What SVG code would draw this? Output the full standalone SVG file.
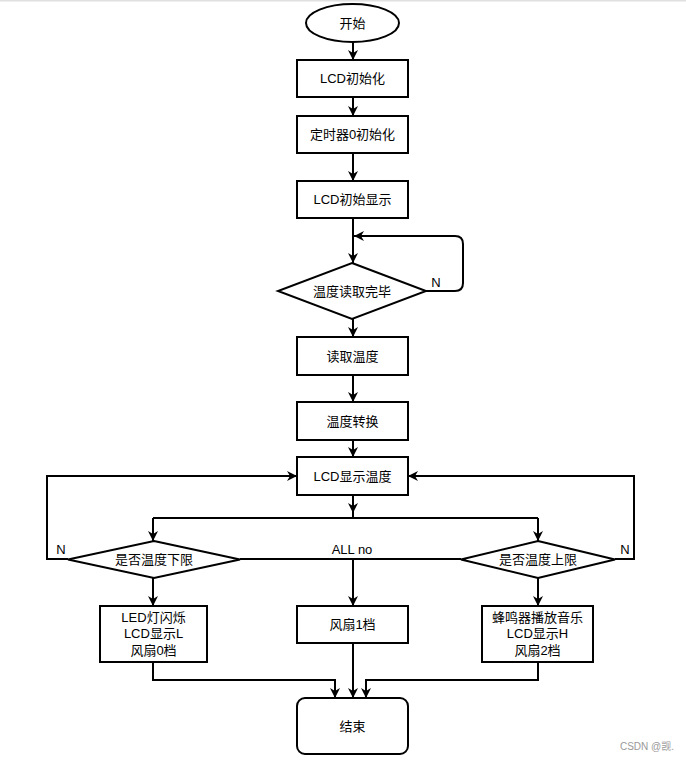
<svg xmlns="http://www.w3.org/2000/svg" width="686" height="761" viewBox="0 0 686 761">
<style>
.s{fill:#fff;stroke:#000;stroke-width:2}
.c{fill:none;stroke:#000;stroke-width:2}
text{font-family:"Liberation Sans","Noto Sans CJK SC",sans-serif;font-size:13px;fill:#000;text-anchor:middle;dominant-baseline:central}
.wm{font-size:10px;fill:#999}
</style>
<defs>
<marker id="a" viewBox="0 0 10 10" markerWidth="10" markerHeight="10" markerUnits="userSpaceOnUse" refX="10" refY="5" orient="auto">
<path d="M0,0 L10,5 L0,10 L3,5 z" fill="#000"/>
</marker>
</defs>
<rect x="0" y="0" width="686" height="761" fill="#fff"/>
<rect x="0" y="0" width="686" height="1.5" fill="#e0e0e0"/>
<g id="connectors">
<path class="c" d="M353,42 V60" marker-end="url(#a)"/>
<path class="c" d="M353,97 V116" marker-end="url(#a)"/>
<path class="c" d="M353,153 V181" marker-end="url(#a)"/>
<path class="c" d="M353,218 V263" marker-end="url(#a)"/>
<path class="c" d="M426,291 H455 Q463,291 463,283 V244 Q463,236 455,236 H354" marker-end="url(#a)"/>
<path class="c" d="M353,319 V337" marker-end="url(#a)"/>
<path class="c" d="M353,375 V402" marker-end="url(#a)"/>
<path class="c" d="M353,440 V457" marker-end="url(#a)"/>
<path class="c" d="M353,495 V513" marker-end="url(#a)"/>
<path class="c" d="M353,511 V518"/>
<path class="c" d="M153,518 H538"/>
<path class="c" d="M153,518 V541" marker-end="url(#a)"/>
<path class="c" d="M538,518 V541" marker-end="url(#a)"/>
<path class="c" d="M68,559 H47 V476 H297" marker-end="url(#a)"/>
<path class="c" d="M615,559 H634 V476 H408" marker-end="url(#a)"/>
<path class="c" d="M240,559 H461"/>
<path class="c" d="M353,559 V606" marker-end="url(#a)"/>
<path class="c" d="M153,578 V606" marker-end="url(#a)"/>
<path class="c" d="M538,578 V606" marker-end="url(#a)"/>
<path class="c" d="M153,662 V680 H335 V698" marker-end="url(#a)"/>
<path class="c" d="M353,643 V698" marker-end="url(#a)"/>
<path class="c" d="M538,662 V680 H366 V698" marker-end="url(#a)"/>
<text x="436" y="282">N</text>
<text x="61" y="549">N</text>
<text x="625" y="549">N</text>
<text x="352" y="549">ALL no</text>
</g>
<g id="start"><ellipse class="s" cx="352.5" cy="23" rx="46.5" ry="19"/><text x="352.5" y="23">开始</text></g>
<g id="lcdInit"><rect class="s" x="297" y="60" width="111" height="37"/><text x="352.5" y="78.5">LCD初始化</text></g>
<g id="timerInit"><rect class="s" x="297" y="116" width="111" height="37"/><text x="352.5" y="134.5">定时器0初始化</text></g>
<g id="lcdShow"><rect class="s" x="297" y="181" width="111" height="37"/><text x="352.5" y="199.5">LCD初始显示</text></g>
<g id="readDone"><polygon class="s" points="352,263 426,291 352,319 278,291"/><text x="352" y="291">温度读取完毕</text></g>
<g id="readTemp"><rect class="s" x="297" y="337" width="111" height="38"/><text x="352.5" y="356">读取温度</text></g>
<g id="convert"><rect class="s" x="297" y="402" width="111" height="38"/><text x="352.5" y="421">温度转换</text></g>
<g id="lcdTemp"><rect class="s" x="297" y="457" width="111" height="38"/><text x="352.5" y="476">LCD显示温度</text></g>
<g id="lowCheck"><polygon class="s" points="154,541 240,559.5 154,578 68,559.5"/><text x="154" y="559.5">是否温度下限</text></g>
<g id="highCheck"><polygon class="s" points="538,541 615,559.5 538,578 461,559.5"/><text x="538" y="559.5">是否温度上限</text></g>
<g id="lowAct"><rect class="s" x="100" y="606" width="107" height="56"/><text x="153.5" y="617">LED灯闪烁</text><text x="153.5" y="633.5">LCD显示L</text><text x="153.5" y="650">风扇0档</text></g>
<g id="midAct"><rect class="s" x="297" y="606" width="111" height="37"/><text x="352.5" y="624.5">风扇1档</text></g>
<g id="highAct"><rect class="s" x="482" y="606" width="111" height="56"/><text x="537.5" y="617">蜂鸣器播放音乐</text><text x="537.5" y="633.5">LCD显示H</text><text x="537.5" y="650">风扇2档</text></g>
<g id="end"><rect class="s" x="297" y="698" width="111" height="56" rx="8"/><text x="352.5" y="726">结束</text></g>
<text class="wm" x="647" y="746">CSDN @觊.</text>
</svg>
